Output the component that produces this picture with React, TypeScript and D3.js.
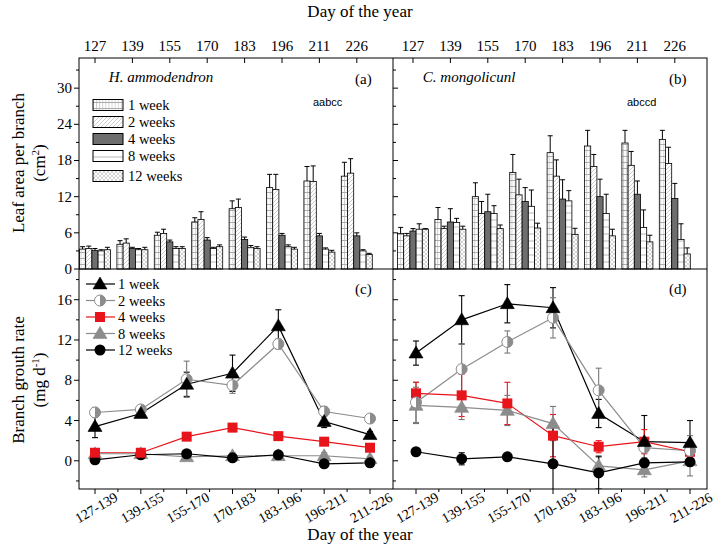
import React from "react";
import * as d3 from "d3";

const dayTicks = ["127", "139", "155", "170", "183", "196", "211", "226"];
const intervals = ["127-139", "139-155", "155-170", "170-183", "183-196", "196-211", "211-226"];
const weekNames = ["1 week", "2 weeks", "4 weeks", "8 weeks", "12 weeks"];

// (a) H. ammodendron leaf area
const haLeaf1w = [3.3, 4.1, 5.6, 7.8, 10.0, 13.5, 14.6, 15.4];
const haLeaf2w = [3.4, 4.3, 5.9, 8.2, 10.2, 13.2, 14.5, 15.9];
const haLeaf4w = [3.1, 3.4, 4.5, 4.8, 4.9, 5.6, 5.5, 5.5];
const haLeaf8w = [3.0, 3.2, 3.4, 3.4, 3.6, 3.7, 3.3, 3.0];
const haLeaf12w = [3.2, 3.2, 3.4, 3.7, 3.4, 3.3, 2.8, 2.4];
const haLeafErr1w = [0.4, 0.6, 0.5, 0.7, 1.3, 2.2, 2.4, 2.3];
const haLeafErr2w = [0.4, 0.7, 0.7, 1.3, 1.4, 2.5, 2.6, 2.4];
const haLeafErr4w = [0.3, 0.2, 0.3, 0.4, 0.4, 0.3, 0.4, 0.5];
const haLeafErr8w = [0.2, 0.2, 0.3, 0.2, 0.3, 0.3, 0.2, 0.2];
const haLeafErr12w = [0.4, 0.4, 0.3, 0.3, 0.3, 0.3, 0.3, 0.2];

// (b) C. mongolicunl leaf area
const cmLeaf1w = [5.9, 8.2, 12.0, 16.0, 19.3, 20.4, 20.9, 21.5];
const cmLeaf2w = [5.5, 6.7, 9.2, 12.3, 15.4, 17.0, 17.2, 17.5];
const cmLeaf4w = [6.3, 7.8, 9.5, 11.2, 11.6, 12.0, 12.4, 11.7];
const cmLeaf8w = [6.6, 7.7, 9.2, 10.4, 11.3, 9.2, 6.9, 4.9];
const cmLeaf12w = [6.6, 6.6, 6.7, 6.8, 5.75, 5.5, 4.5, 2.5];
const cmLeafErr1w = [1.0, 2.0, 2.3, 3.0, 2.8, 2.6, 2.1, 1.5];
const cmLeafErr2w = [0.4, 0.4, 2.0, 2.6, 2.7, 2.0, 2.3, 2.7];
const cmLeafErr4w = [0.4, 2.2, 2.9, 2.3, 3.2, 2.9, 2.2, 2.5];
const cmLeafErr8w = [0.9, 0.7, 1.3, 2.7, 1.7, 3.2, 2.9, 2.6];
const cmLeafErr12w = [0.1, 0.5, 0.6, 0.8, 1.0, 1.1, 1.1, 1.0];

// (c) H. ammodendron growth rate
const haRate1w = [3.4, 4.7, 7.6, 8.7, 13.4, 3.9, 2.6];
const haRate2w = [4.8, 5.1, 8.1, 7.5, 11.6, 4.9, 4.2];
const haRate4w = [0.8, 0.8, 2.4, 3.3, 2.45, 1.9, 1.3];
const haRate8w = [0.7, 0.7, 0.4, 0.5, 0.5, 0.5, 0.2];
const haRate12w = [0.1, 0.6, 0.7, 0.3, 0.6, -0.3, -0.2];
const haRateErr1w = [1.1, 0.3, 1.2, 1.8, 1.6, 0.6, 0.3];
const haRateErr2w = [0.5, 0.4, 1.8, 0.8, 0.5, 0.5, 0.2];
const haRateErr4w = [0.2, 0.2, 0.2, 0.4, 0.2, 0.2, 0.2];
const haRateErr8w = [0.2, 0.2, 0.3, 0.3, 0.3, 0.3, 0.2];
const haRateErr12w = [0.2, 0.2, 0.3, 0.2, 0.2, 0.2, 0.2];

// (d) C. mongolicunl growth rate
const cmRate1w = [10.7, 14.0, 15.6, 15.2, 4.7, 1.9, 1.8];
const cmRate2w = [5.8, 9.1, 11.8, 14.2, 7.0, 1.3, 1.0];
const cmRate4w = [6.7, 6.5, 5.7, 2.5, 1.4, 1.9, 0.9];
const cmRate8w = [5.5, 5.3, 5.0, 3.7, -0.5, -0.9, 0.0];
const cmRate12w = [0.9, 0.2, 0.4, -0.3, -1.2, -0.2, -0.1];
const cmRateErr1w = [1.2, 2.4, 1.9, 2.0, 1.4, 2.6, 2.2];
const cmRateErr2w = [2.0, 2.5, 1.1, 2.0, 2.2, 1.0, 1.5];
const cmRateErr4w = [1.1, 2.1, 2.1, 2.1, 0.6, 1.2, 0.4];
const cmRateErr8w = [1.8, 1.2, 1.5, 1.7, 1.0, 0.7, 1.5];
const cmRateErr12w = [0.2, 0.6, 0.2, 3.6, 1.6, 0.3, 0.3];

const leafTicks = [0, 6, 12, 18, 24, 30];
const rateTicks = [0, 4, 8, 12, 16];

const SERIF = "'Liberation Serif', 'Times New Roman', serif";
const SANS = "'Liberation Sans', Arial, sans-serif";

const X0 = 79, XM = 393, X1 = 707;
const Y0 = 58, YM = 269, Y1 = 489;

const yLeaf = d3.scaleLinear().domain([0, 35]).range([YM, Y0]);
const yRate = d3.scaleLinear().domain([-2.8, 19.05]).range([Y1, YM]);

const barFills = ["url(#p1w)", "url(#p2w)", "#6e6e6e", "url(#p8w)", "url(#p12w)"];
const lineColors = ["#000", "#8c8c8c", "#e8141b", "#8c8c8c", "#000"];

function Marker({ kind, x, y, color }: { kind: number; x: number; y: number; color: string }) {
  if (kind === 0 || kind === 3) {
    const s = 7;
    return <path d={`M${x},${y - s} L${x + s},${y + s * 0.7} L${x - s},${y + s * 0.7} Z`} fill={color} stroke={kind === 0 ? "#000" : "#888"} strokeWidth={0.6} />;
  }
  if (kind === 1) {
    const r = 5.5;
    return (
      <g>
        <circle cx={x} cy={y} r={r} fill="#fff" stroke="#8c8c8c" strokeWidth={1} />
        <path d={`M${x},${y - r} A${r},${r} 0 0 1 ${x},${y + r} Z`} fill="#8c8c8c" />
      </g>
    );
  }
  if (kind === 2) {
    const s = 5;
    return <rect x={x - s} y={y - s} width={2 * s} height={2 * s} fill="#e8141b" />;
  }
  return <circle cx={x} cy={y} r={5.5} fill="#000" />;
}

function BarPanel({ x0, x1, leaf, errs, label, species, letters, withLegend, startOffset }: any) {
  const xs = d3.scalePoint<string>().domain(dayTicks).range([x0 + startOffset, x0 + startOffset + 7 * 37.4]);
  const bw = 6.2;
  return (
    <g>
      {dayTicks.map((d, i) => {
        const cx = xs(d)!;
        return leaf.map((series: number[], s: number) => {
          const bx = cx - 2.5 * bw + s * bw;
          const v = series[i];
          const e = errs[s][i];
          const yt = yLeaf(v);
          const ye = yLeaf(v + e);
          return (
            <g key={`${i}-${s}`}>
              <rect x={bx} y={yt} width={bw} height={yLeaf(0) - yt} fill={barFills[s]} stroke="#000" strokeWidth={0.8} />
              <line x1={bx + bw / 2} x2={bx + bw / 2} y1={yt} y2={ye} stroke="#000" strokeWidth={1} />
              <line x1={bx + bw / 2 - 2.5} x2={bx + bw / 2 + 2.5} y1={ye} y2={ye} stroke="#000" strokeWidth={1} />
            </g>
          );
        });
      })}
      {dayTicks.map((d) => (
        <g key={d}>
          <line x1={xs(d)} x2={xs(d)} y1={Y0} y2={Y0 + 5} stroke="#000" />
          <text x={xs(d)} y={Y0 - 7} fontSize={15} fontFamily={SERIF} textAnchor="middle">{d}</text>
        </g>
      ))}
      <text x={x0 + (x1 - x0) * 0.095} y={82} fontSize={15} fontFamily={SERIF} fontStyle="italic">{species}</text>
      <text x={x1 - 38} y={84} fontSize={15} fontFamily={SERIF}>{label}</text>
      <text x={x1 - 80} y={106} fontSize={11} fontFamily={SANS}>{letters}</text>
      {withLegend && weekNames.map((w, s) => {
        const cy = [105, 122, 139, 156, 176][s];
        return (
          <g key={w}>
            <rect x={93} y={cy - 5.5} width={30} height={11} fill={barFills[s]} stroke="#000" strokeWidth={1} />
            <text x={128} y={cy + 5} fontSize={14.5} fontFamily={SERIF}>{w}</text>
          </g>
        );
      })}
    </g>
  );
}

function LinePanel({ x0, x1, rates, errs, label, withLegend, range, clipId }: any) {
  const xs = d3.scalePoint<string>().domain(intervals).range(range);
  const line = d3.line<number>().x((_, i) => xs(intervals[i])!).y((v) => yRate(v));
  return (
    <g>
      <g clipPath={`url(#${clipId})`}>
        {rates.map((series: number[], s: number) => (
          <g key={s}>
            {series.map((v, i) => {
              const x = xs(intervals[i])!;
              const e = errs[s][i];
              return (
                <g key={i} stroke={s === 2 ? "#e8141b" : s === 1 || s === 3 ? "#777" : "#000"} strokeWidth={1.1}>
                  <line x1={x} x2={x} y1={yRate(v - e)} y2={yRate(v + e)} />
                  <line x1={x - 3} x2={x + 3} y1={yRate(v - e)} y2={yRate(v - e)} />
                  <line x1={x - 3} x2={x + 3} y1={yRate(v + e)} y2={yRate(v + e)} />
                </g>
              );
            })}
            <path d={line(series)!} fill="none" stroke={lineColors[s]} strokeWidth={1.2} />
          </g>
        ))}
        {[3, 4, 2, 1, 0].map((s) =>
          rates[s].map((v: number, i: number) => (
            <Marker key={`${s}-${i}`} kind={s} x={xs(intervals[i])!} y={yRate(v)} color={s === 3 ? "#8c8c8c" : s === 2 ? "#e8141b" : "#000"} />
          ))
        )}
      </g>
      {intervals.map((d) => (
        <g key={d}>
          <line x1={xs(d)} x2={xs(d)} y1={Y1} y2={Y1 + 5} stroke="#000" />
          <text transform={`translate(${xs(d)! + 2},${509}) rotate(-30)`} fontSize={14} fontFamily={SERIF} textAnchor="middle" dominantBaseline="middle">{d}</text>
        </g>
      ))}
      {intervals.slice(0, -1).map((d, i) => {
        const mx = (xs(d)! + xs(intervals[i + 1])!) / 2;
        return <line key={d} x1={mx} x2={mx} y1={Y1} y2={Y1 + 3} stroke="#000" />;
      })}
      <text x={x1 - 38} y={294} fontSize={15} fontFamily={SERIF}>{label}</text>
      {withLegend && weekNames.map((w, s) => {
        const cy = 284 + s * 16.5;
        return (
          <g key={w}>
            <line x1={86} x2={115} y1={cy} y2={cy} stroke={lineColors[s]} strokeWidth={1.2} />
            <Marker kind={s} x={100} y={cy} color={s === 3 ? "#8c8c8c" : s === 2 ? "#e8141b" : "#000"} />
            <text x={118} y={cy + 5} fontSize={14.5} fontFamily={SERIF}>{w}</text>
          </g>
        );
      })}
    </g>
  );
}

function YTicks({ x, scale, major, minorStep, lo, hi, dir, labels }: any) {
  const items: any[] = [];
  for (let v = lo; v <= hi + 1e-9; v += minorStep) {
    const isMajor = major.some((m: number) => Math.abs(m - v) < 1e-6);
    const len = isMajor ? 5 : 3;
    items.push(<line key={`t${v}`} x1={x} x2={x + dir * len} y1={scale(v)} y2={scale(v)} stroke="#000" />);
    if (isMajor && labels) {
      items.push(<text key={`l${v}`} x={x - 7} y={scale(v) + 5} fontSize={15} fontFamily={SERIF} textAnchor="end">{v}</text>);
    }
  }
  return <g>{items}</g>;
}

export default function App() {
  return (
    <svg width={715} height={552} style={{ position: "absolute", left: 0, top: 0, background: "#fff" }}>
      <defs>
        <pattern id="p1w" patternUnits="userSpaceOnUse" width={3.1} height={6}>
          <rect width={3.1} height={6} fill="#fff" />
          <line x1={0} x2={3.1} y1={0.5} y2={0.5} stroke="#999" strokeWidth={0.7} />
          <line x1={0.5} x2={0.5} y1={0} y2={6} stroke="#aaa" strokeWidth={0.6} />
        </pattern>
        <pattern id="p2w" patternUnits="userSpaceOnUse" width={4} height={4}>
          <rect width={4} height={4} fill="#fff" />
          <path d="M0,4 L4,0 M-1,1 L1,-1 M3,5 L5,3" stroke="#aaa" strokeWidth={0.6} />
        </pattern>
        <pattern id="p8w" patternUnits="userSpaceOnUse" width={6} height={7}>
          <rect width={6} height={7} fill="#fff" />
          <line x1={0} x2={6} y1={3} y2={3} stroke="#999" strokeWidth={0.7} />
        </pattern>
        <pattern id="p12w" patternUnits="userSpaceOnUse" width={4} height={4}>
          <rect width={4} height={4} fill="#fff" />
          <path d="M0,0 L4,4 M0,4 L4,0" stroke="#aaa" strokeWidth={0.5} />
          <circle cx={2} cy={1} r={0.3} fill="#999" />
        </pattern>
        <clipPath id="clipC"><rect x={X0} y={YM} width={XM - X0} height={Y1 - YM} /></clipPath>
        <clipPath id="clipD"><rect x={XM} y={YM} width={X1 - XM} height={Y1 - YM} /></clipPath>
      </defs>

      <text x={360} y={17} fontSize={17} fontFamily={SERIF} textAnchor="middle">Day of the year</text>
      <text x={360} y={540} fontSize={17} fontFamily={SERIF} textAnchor="middle">Day of the year</text>

      <BarPanel x0={X0} x1={XM} startOffset={16}
        leaf={[haLeaf1w, haLeaf2w, haLeaf4w, haLeaf8w, haLeaf12w]}
        errs={[haLeafErr1w, haLeafErr2w, haLeafErr4w, haLeafErr8w, haLeafErr12w]}
        label="(a)" species="H. ammodendron" letters="aabcc" withLegend={true} />
      <BarPanel x0={XM} x1={X1} startOffset={20}
        leaf={[cmLeaf1w, cmLeaf2w, cmLeaf4w, cmLeaf8w, cmLeaf12w]}
        errs={[cmLeafErr1w, cmLeafErr2w, cmLeafErr4w, cmLeafErr8w, cmLeafErr12w]}
        label="(b)" species="C. mongolicunl" letters="abccd" withLegend={false} />

      <LinePanel x0={X0} x1={XM} range={[95, 370]} clipId="clipC"
        rates={[haRate1w, haRate2w, haRate4w, haRate8w, haRate12w]}
        errs={[haRateErr1w, haRateErr2w, haRateErr4w, haRateErr8w, haRateErr12w]}
        label="(c)" withLegend={true} />
      <LinePanel x0={XM} x1={X1} range={[416, 690]} clipId="clipD"
        rates={[cmRate1w, cmRate2w, cmRate4w, cmRate8w, cmRate12w]}
        errs={[cmRateErr1w, cmRateErr2w, cmRateErr4w, cmRateErr8w, cmRateErr12w]}
        label="(d)" withLegend={false} />

      <YTicks x={X0} scale={yLeaf} major={leafTicks} minorStep={3} lo={0} hi={33} dir={-1} labels={true} />
      <YTicks x={XM} scale={yLeaf} major={leafTicks} minorStep={3} lo={0} hi={33} dir={1} labels={false} />
      <YTicks x={X0} scale={yRate} major={rateTicks} minorStep={2} lo={-2} hi={18} dir={-1} labels={true} />
      <YTicks x={XM} scale={yRate} major={rateTicks} minorStep={2} lo={-2} hi={18} dir={1} labels={false} />

      <rect x={X0} y={Y0} width={X1 - X0} height={Y1 - Y0} fill="none" stroke="#000" strokeWidth={1} />
      <line x1={XM} x2={XM} y1={Y0} y2={Y1} stroke="#000" />
      <line x1={X0} x2={X1} y1={YM} y2={YM} stroke="#000" />

      <text transform={`translate(24,163) rotate(-90)`} fontSize={17} fontFamily={SERIF} textAnchor="middle">Leaf area per branch</text>
      <text transform={`translate(45,163) rotate(-90)`} fontSize={17} fontFamily={SERIF} textAnchor="middle">
        (cm<tspan dy={-6} fontSize={11}>2</tspan><tspan dy={6}>)</tspan>
      </text>
      <text transform={`translate(24,380) rotate(-90)`} fontSize={17} fontFamily={SERIF} textAnchor="middle">Branch grouth rate</text>
      <text transform={`translate(45,380) rotate(-90)`} fontSize={17} fontFamily={SERIF} textAnchor="middle">
        (mg d<tspan dy={-6} fontSize={11}>-1</tspan><tspan dy={6}>)</tspan>
      </text>
    </svg>
  );
}
